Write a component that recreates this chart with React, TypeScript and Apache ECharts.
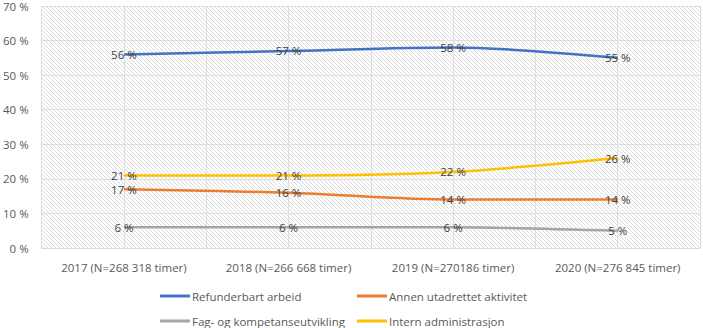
import React, { useEffect, useRef } from "react";
import * as echarts from "echarts";

const categories = [
  "2017 (N=268 318 timer)",
  "2018 (N=266 668 timer)",
  "2019 (N=270186 timer)",
  "2020 (N=276 845 timer)",
];
const refunderbart = [56, 57, 58, 55];
const annen = [17, 16, 14, 14];
const fag = [6, 6, 6, 5];
const intern = [21, 21, 22, 26];
const seriesNames = [
  "Refunderbart arbeid",
  "Annen utadrettet aktivitet",
  "Fag- og kompetanseutvikling",
  "Intern administrasjon",
];
const colors = ["#4472C4", "#ED7D31", "#A5A5A5", "#FFC000"];

const FONT = "Open Sans";
const FS = 11.5;

const hatchSvg =
  "data:image/svg+xml;utf8," +
  encodeURIComponent(
    '<svg xmlns="http://www.w3.org/2000/svg" width="4" height="4">' +
      '<rect width="4" height="4" fill="#ffffff"/>' +
      '<path d="M0,0 L4,4 M3,-1 L5,1 M-1,3 L1,5" stroke="#d0d0d0" stroke-width="0.8"/>' +
      "</svg>"
  );

export default function App() {
  const ref = useRef<HTMLDivElement>(null);
  useEffect(() => {
    if (!ref.current) return;
    const chart = echarts.init(ref.current, null, { renderer: "svg" });
    const data = [refunderbart, annen, fag, intern];
    const legendPos = [
      { left: 160, top: 290 },
      { left: 357, top: 290 },
      { left: 160, top: 315 },
      { left: 357, top: 315 },
    ];
    chart.setOption({
      animation: false,
      backgroundColor: "#ffffff",
      textStyle: { fontFamily: FONT },
      grid: {
        left: 39.5,
        right: 3,
        top: 4,
        bottom: 80,
        show: true,
        borderWidth: 0,
        backgroundColor: {
          image: hatchSvg,
          repeat: "repeat",
          imageWidth: 4,
          imageHeight: 4,
        } as any,
      },
      legend: legendPos.map((p, i) => ({
        data: [seriesNames[i]],
        left: p.left,
        top: p.top,
        icon: "rect",
        itemWidth: 30,
        itemHeight: 3,
        itemGap: 0,
        padding: 0,
        textStyle: { fontFamily: FONT, fontSize: FS, color: "#595959", padding: [0, 0, 0, -3] },
      })),
      xAxis: [
        {
          type: "category",
          data: categories,
          boundaryGap: true,
          axisLine: { show: true, lineStyle: { color: "#d9d9d9" } },
          axisTick: { show: false },
          splitLine: { show: false },
          axisLabel: {
            fontFamily: FONT,
            fontSize: FS,
            color: "#595959",
            margin: 13,
            interval: 0,
          },
        },
        {
          type: "value",
          min: 0,
          max: 8,
          interval: 1,
          position: "bottom",
          axisLine: { show: false },
          axisTick: { show: false },
          axisLabel: { show: false },
          splitLine: { show: true, lineStyle: { color: "#dedede", width: 1 } },
        },
      ],
      yAxis: {
        type: "value",
        min: 0,
        max: 70,
        interval: 10,
        axisLine: { show: false },
        axisTick: { show: false },
        axisLabel: {
          formatter: "{value} %",
          fontFamily: FONT,
          fontSize: FS,
          color: "#595959",
          margin: 13,
        },
        splitLine: { show: true, lineStyle: { color: "#dedede", width: 1 } },
      },
      series: data.map((d, i) => ({
        name: seriesNames[i],
        type: "line",
        xAxisIndex: 0,
        data: d,
        smooth: 0.3,
        symbol: "circle",
        symbolSize: 0.1,
        color: colors[i],
        lineStyle: { color: colors[i], width: 2.5 },
        itemStyle: { color: colors[i] },
        label: {
          show: true,
          position: "inside",
          formatter: "{c} %",
          fontFamily: FONT,
          fontSize: FS,
          color: "#404040",
        },
      })),
    });
    return () => chart.dispose();
  }, []);
  return (
    <div
      ref={ref}
      style={{ position: "absolute", left: 0, top: 0, width: 703, height: 328 }}
    />
  );
}
